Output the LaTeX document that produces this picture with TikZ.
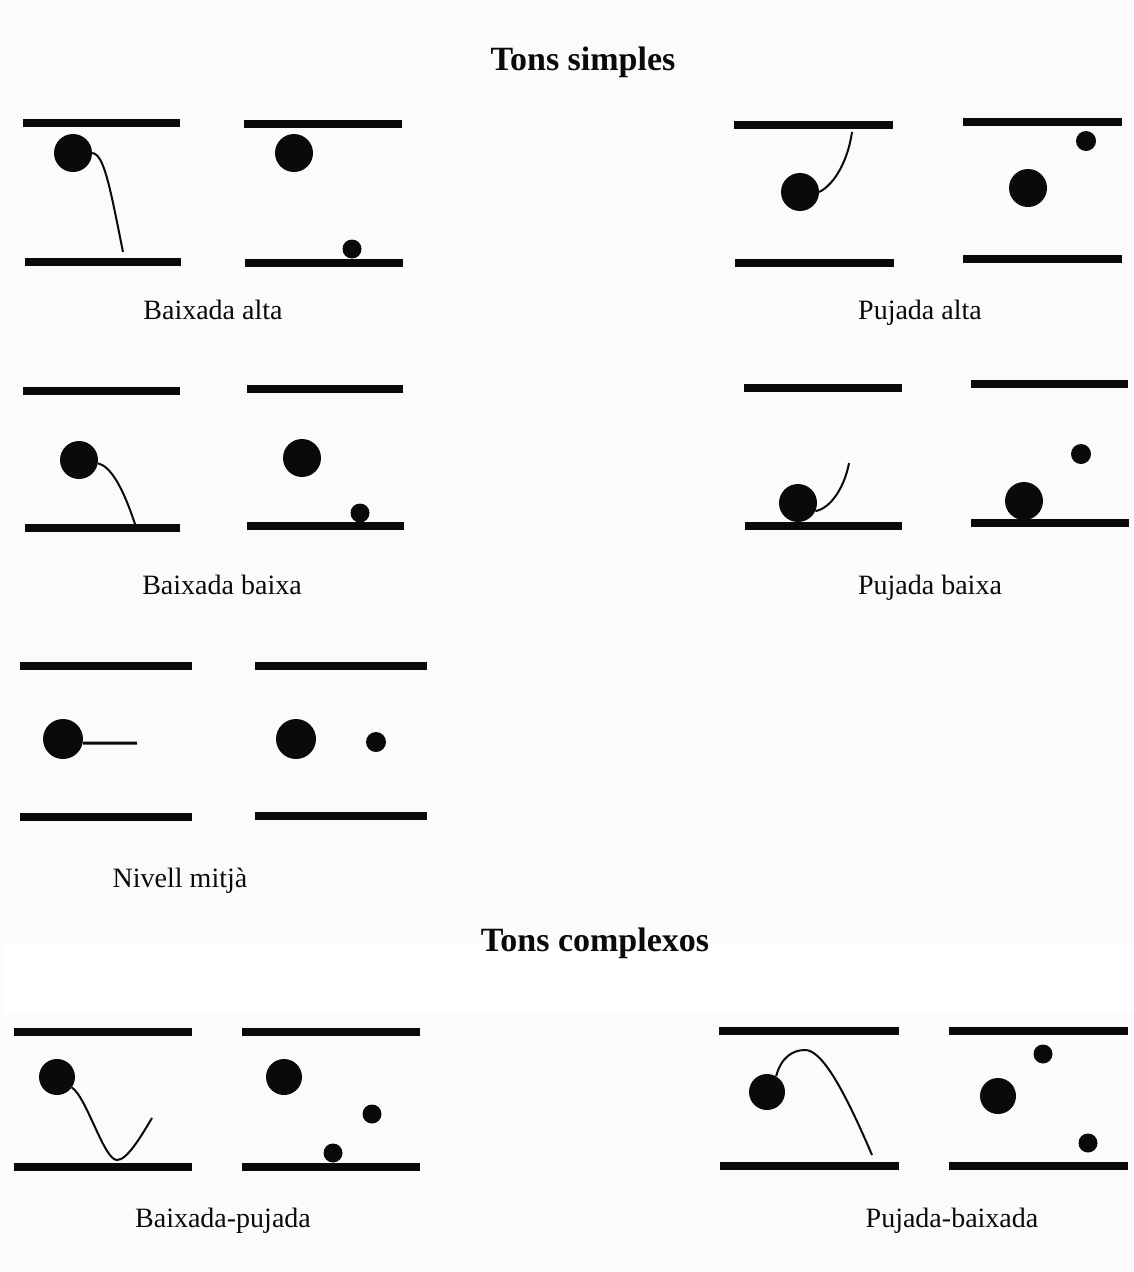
\documentclass[tikz,border=0pt]{standalone}
\usepackage{fontspec}
\setmainfont{Liberation Serif}
\definecolor{bgc}{RGB}{251,251,251}
\definecolor{ink}{RGB}{10,10,10}
\begin{document}
\begin{tikzpicture}[x=1pt,y=-1pt,
  bar/.style={draw=ink,line width=7.5pt},
  bigdot/.style={circle,fill=ink,inner sep=0pt,minimum size=38pt},
  smalldot/.style={circle,fill=ink,inner sep=0pt,minimum size=19pt},
  curve/.style={draw=ink,line width=2pt},
  lab/.style={font=\fontsize{28}{30}\selectfont,anchor=base,text=ink},
  ttl/.style={font=\bfseries\fontsize{34}{36}\selectfont,anchor=base,text=ink}]
\fill[bgc] (0,0) rectangle (1134,1272);
\fill[white] (4,943) rectangle (1134,1014);
\useasboundingbox (0,0) rectangle (1134,1272);

% titles
\node[ttl] (t1) at (583,70) {Tons simples};
\node[ttl] (t2) at (595,951) {Tons complexos};

% ---- Baixada alta
\draw[bar] (23,123) -- (180,123);
\draw[bar] (25,262) -- (181,262);
\node[bigdot] (ba1) at (73,153) {};
\coordinate (ba1e) at (123,252);
\draw[curve] (ba1.east) .. controls (104,154) and (110,187) .. (ba1e);
\draw[bar] (244,124) -- (402,124);
\draw[bar] (245,263) -- (403,263);
\node[bigdot] (ba2) at (294,153) {};
\node[smalldot] (ba3) at (352,249) {};
\node[lab] (l1) at (213,319) {Baixada alta};

% ---- Pujada alta
\draw[bar] (734,125) -- (893,125);
\draw[bar] (735,263) -- (894,263);
\node[bigdot] (pa1) at (800,192) {};
\coordinate (pa1e) at (852,132);
\draw[curve] (pa1.east) .. controls (835,184) and (848,160) .. (pa1e);
\draw[bar] (963,122) -- (1122,122);
\draw[bar] (963,259) -- (1122,259);
\node[smalldot,minimum size=20pt] (pa3) at (1086,141) {};
\node[bigdot] (pa2) at (1028,188) {};
\node[lab] (l2) at (920,319) {Pujada alta};

% ---- Baixada baixa
\draw[bar] (23,391) -- (180,391);
\draw[bar] (25,528) -- (180,528);
\node[bigdot] (bb1) at (79,460) {};
\coordinate (bb1e) at (135,524);
\draw[curve] (bb1.-10) .. controls (110,466) and (122,485) .. (bb1e);
\draw[bar] (247,389) -- (403,389);
\draw[bar] (247,526) -- (404,526);
\node[bigdot] (bb2) at (302,458) {};
\node[smalldot] (bb3) at (360,513) {};
\node[lab] (l3) at (222,594) {Baixada baixa};

% ---- Pujada baixa
\draw[bar] (744,388) -- (902,388);
\draw[bar] (745,526) -- (902,526);
\node[bigdot] (pb1) at (798,503) {};
\coordinate (pb1e) at (849,463);
\draw[curve] (pb1.-25) .. controls (832,508) and (845,485) .. (pb1e);
\draw[bar] (971,384) -- (1128,384);
\draw[bar] (971,523) -- (1129,523);
\node[smalldot,minimum size=20pt] (pb3) at (1081,454) {};
\node[bigdot] (pb2) at (1024,501) {};
\node[lab] (l4) at (930,594) {Pujada baixa};

% ---- Nivell mitja
\draw[bar] (20,666) -- (192,666);
\draw[bar] (20,817) -- (192,817);
\node[bigdot,minimum size=40pt] (nm1) at (63,739) {};
\coordinate (nm1e) at (137,743);
\draw[curve,line width=3pt] (nm1.-12) -- (nm1e);
\draw[bar] (255,666) -- (427,666);
\draw[bar] (255,816) -- (427,816);
\node[bigdot,minimum size=40pt] (nm2) at (296,739) {};
\node[smalldot,minimum size=20pt] (nm3) at (376,742) {};
\node[lab] (l5) at (180,887) {Nivell mitjà};

% ---- Baixada-pujada
\draw[bar] (14,1032) -- (192,1032);
\draw[bar] (14,1167) -- (192,1167);
\node[bigdot,minimum size=36pt] (bp1) at (57,1077) {};
\coordinate (bpv) at (117,1160);
\coordinate (bp1e) at (152,1118);
\draw[curve] (bp1.-35) .. controls (87,1098) and (104,1160) .. (bpv)
  .. controls (127,1160) and (140,1138) .. (bp1e);
\draw[bar] (242,1032) -- (420,1032);
\draw[bar] (242,1167) -- (420,1167);
\node[bigdot,minimum size=36pt] (bp2) at (284,1077) {};
\node[smalldot] (bp3) at (372,1114) {};
\node[smalldot] (bp4) at (333,1153) {};
\node[lab] (l6) at (223,1227) {Baixada-pujada};

% ---- Pujada-baixada
\draw[bar] (719,1031) -- (899,1031);
\draw[bar] (720,1166) -- (899,1166);
\node[bigdot,minimum size=36pt] (pbx1) at (767,1092) {};
\coordinate (pbxp) at (805,1050);
\coordinate (pbx1e) at (872,1155);
\draw[curve] (pbx1.60) .. controls (781,1058) and (792,1050) .. (pbxp)
  .. controls (820,1050) and (840,1080) .. (pbx1e);
\draw[bar] (949,1031) -- (1128,1031);
\draw[bar] (949,1166) -- (1128,1166);
\node[smalldot] (pbx3) at (1043,1054) {};
\node[bigdot,minimum size=36pt] (pbx2) at (998,1096) {};
\node[smalldot] (pbx4) at (1088,1143) {};
\node[lab] (l7) at (952,1227) {Pujada-baixada};
\end{tikzpicture}
\end{document}
